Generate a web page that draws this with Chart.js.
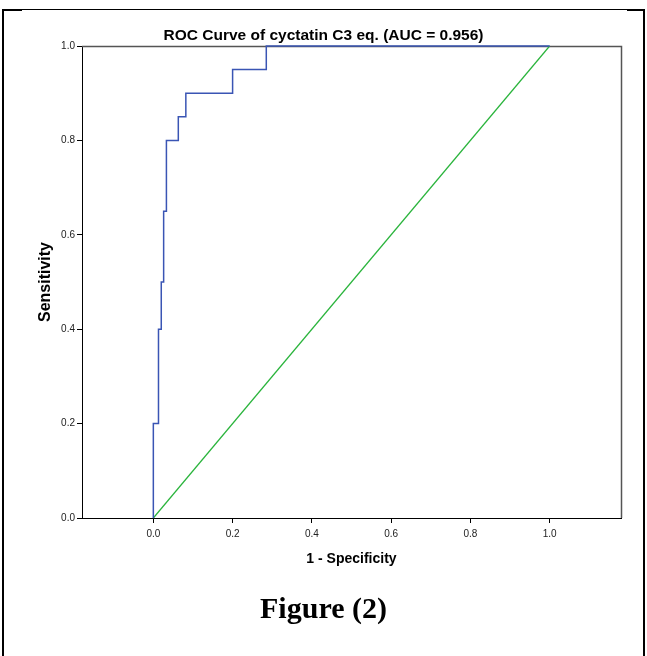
<!DOCTYPE html>
<html>
<head>
<meta charset="utf-8">
<script src="https://cdn.jsdelivr.net/npm/chart.js@4.4.1/dist/chart.umd.min.js"></script>
<style>
  html, body { margin: 0; padding: 0; background: #fff; }
  body { width: 647px; height: 656px; position: relative; overflow: hidden; }
  #c { position: absolute; left: 0; top: 0; }
  #frame { position: absolute; left: 2px; top: 9px; width: 643px; height: 660px;
           border-left: 2px solid #000; border-right: 2px solid #000; border-top: 1px solid #000; box-sizing: border-box; }
  .cornerL { position: absolute; left: 2px; top: 9px; width: 20px; height: 2px; background: #000; }
  .cornerR { position: absolute; left: 627px; top: 9px; width: 18px; height: 2px; background: #000; }
  #fig { position: absolute; left: 0; width: 647px; top: 591px; text-align: center;
         font-family: 'Liberation Serif', 'Times New Roman', serif; font-weight: bold; font-size: 30px; color: #000; }
</style>
</head>
<body>
<canvas id="c" width="647" height="656"></canvas>
<div id="frame"></div>
<div class="cornerL"></div>
<div class="cornerR"></div>
<div id="fig">Figure (2)</div>
<script>
// ---- data ----
const chartTitle = 'ROC Curve of cyctatin C3 eq. (AUC = 0.956)';
const xTitle = '1 - Specificity';
const yTitle = 'Sensitivity';
const rocFPR = [0, 0, 0.013, 0.02, 0.026, 0.033, 0.063, 0.082, 0.2, 0.285, 1.0];
const rocTPR = [0, 0.2, 0.4, 0.5, 0.65, 0.8, 0.85, 0.9, 0.95, 1.0, 1.0];
const refX = [0, 1];
const refY = [0, 1];
const xTicks = [0, 0.2, 0.4, 0.6, 0.8, 1.0];
const yTicks = [0, 0.2, 0.4, 0.6, 0.8, 1.0];

const sans = "'Liberation Sans', Arial, Helvetica, sans-serif";

const plotBorder = {
  id: 'plotBorder',
  afterLayout(chart) {
    const t = chart.titleBlock;
    if (t) { t.left = 0; t.right = chart.width; t.width = chart.width; }
  },
  beforeDatasetsDraw(chart) {
    const {ctx, chartArea: a} = chart;
    ctx.save();
    ctx.strokeStyle = '#555';
    ctx.lineWidth = 1.5;
    ctx.beginPath();
    ctx.moveTo(a.left, a.top + 0.5);
    ctx.lineTo(a.right + 0.5, a.top + 0.5);
    ctx.lineTo(a.right + 0.5, a.bottom);
    ctx.stroke();
    ctx.restore();
  }
};

new Chart(document.getElementById('c'), {
  type: 'scatter',
  data: {
    datasets: [
      {
        data: rocFPR.map((x, i) => ({x, y: rocTPR[i]})),
        showLine: true,
        stepped: 'before',
        borderColor: '#3a55b4',
        borderWidth: 1.5,
        pointRadius: 0,
        fill: false,
        clip: false
      },
      {
        data: refX.map((x, i) => ({x, y: refY[i]})),
        showLine: true,
        borderColor: '#2ab43c',
        borderWidth: 1.2,
        pointRadius: 0,
        fill: false,
        clip: false
      }
    ]
  },
  options: {
    responsive: false,
    devicePixelRatio: 1,
    animation: false,
    layout: { padding: { left: 0, top: 0, right: 26, bottom: 78 } },
    plugins: {
      legend: { display: false },
      tooltip: { enabled: false },
      title: {
        display: true,
        text: chartTitle,
        color: '#000',
        font: { family: sans, size: 15.5, weight: 'bold', lineHeight: 1.2 },
        padding: { top: 26, bottom: 1.4 }
      }
    },
    scales: {
      x: {
        type: 'linear',
        min: -0.18,
        max: 1.18,
        afterBuildTicks: s => { s.ticks = xTicks.map(v => ({value: v})); },
        afterFit: s => { s.height = 60; },
        ticks: {
          color: '#222',
          font: { family: sans, size: 10 },
          padding: 5,
          maxRotation: 0,
          callback: v => Number(v).toFixed(1)
        },
        grid: { drawOnChartArea: false, drawTicks: true, tickLength: 5, color: '#000' },
        border: { display: true, color: '#000', width: 1 },
        title: {
          display: true,
          text: xTitle,
          color: '#000',
          font: { family: sans, size: 14, weight: 'bold' },
          padding: { top: 0, bottom: 10 }
        }
      },
      y: {
        type: 'linear',
        min: 0,
        max: 1,
        afterBuildTicks: s => { s.ticks = yTicks.map(v => ({value: v})); },
        afterFit: s => { s.width = 82; },
        ticks: {
          color: '#222',
          font: { family: sans, size: 10 },
          padding: 2,
          callback: v => Number(v).toFixed(1)
        },
        grid: { drawOnChartArea: false, drawTicks: true, tickLength: 5, color: '#000' },
        border: { display: true, color: '#000', width: 1 },
        title: {
          display: true,
          text: yTitle,
          color: '#000',
          font: { family: sans, size: 16, weight: 'bold' },
          padding: { top: 36, bottom: 0 }
        }
      }
    }
  },
  plugins: [plotBorder]
});
</script>
</body>
</html>
